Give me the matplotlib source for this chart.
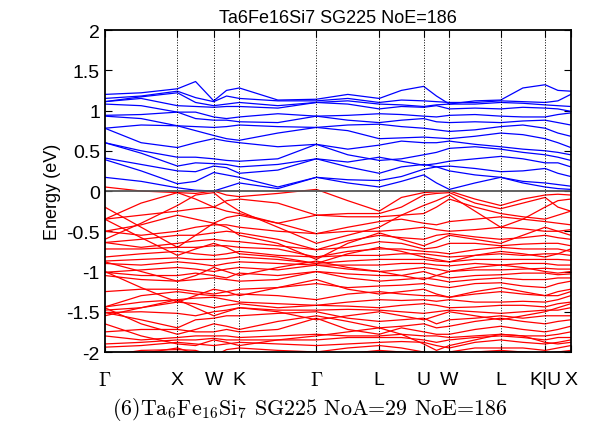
import numpy as np
import matplotlib
matplotlib.use("Agg")
import matplotlib.pyplot as plt

plt.rcParams['font.family'] = ['Liberation Sans', 'DejaVu Sans']
plt.rcParams['mathtext.fontset'] = 'cm'

# k-path (fcc): segment lengths in units of 2pi/a
labels = [r'$\Gamma$', 'X', 'W', 'K', r'$\Gamma$', 'L', 'U', 'W', 'L', 'K|U', 'X']
seg_len = [1.0, 0.5, 0.3536, 1.0607, 0.8660, 0.6124, 0.3536, 0.7071, 0.6124, 0.3536]

# band energies (eV) read at high-symmetry points and segment midpoints (21 nodes)
cond_bands = [
    [0.17, 0.12, 0.04, 0.01, 0.00, 0.05, 0.10, 0.03, 0.17, 0.10, 0.05, 0.12, 0.20, 0.10, 0.02, 0.10, 0.17, 0.10, 0.05, 0.03, 0.02],
    [0.39, 0.25, 0.09, 0.12, 0.23, 0.20, 0.17, 0.05, 0.17, 0.14, 0.13, 0.18, 0.27, 0.30, 0.25, 0.20, 0.17, 0.12, 0.10, 0.08, 0.06],
    [0.41, 0.33, 0.25, 0.24, 0.31, 0.29, 0.22, 0.26, 0.40, 0.30, 0.22, 0.30, 0.33, 0.30, 0.31, 0.28, 0.24, 0.25, 0.28, 0.22, 0.18],
    [0.60, 0.47, 0.31, 0.35, 0.34, 0.33, 0.30, 0.33, 0.40, 0.36, 0.42, 0.37, 0.32, 0.34, 0.37, 0.40, 0.43, 0.40, 0.35, 0.35, 0.30],
    [0.60, 0.50, 0.42, 0.42, 0.40, 0.38, 0.37, 0.40, 0.58, 0.45, 0.38, 0.40, 0.45, 0.48, 0.53, 0.55, 0.52, 0.48, 0.45, 0.42, 0.38],
    [0.78, 0.60, 0.54, 0.60, 0.65, 0.62, 0.60, 0.55, 0.58, 0.52, 0.57, 0.62, 0.60, 0.60, 0.62, 0.58, 0.55, 0.52, 0.50, 0.48, 0.45],
    [0.78, 0.82, 0.81, 0.75, 0.69, 0.65, 0.63, 0.72, 0.79, 0.75, 0.65, 0.66, 0.67, 0.66, 0.65, 0.68, 0.72, 0.70, 0.65, 0.60, 0.54],
    [0.93, 0.90, 0.81, 0.80, 0.79, 0.80, 0.82, 0.80, 0.79, 0.82, 0.83, 0.80, 0.78, 0.76, 0.74, 0.76, 0.80, 0.82, 0.78, 0.72, 0.68],
    [0.94, 0.95, 0.98, 0.90, 0.88, 0.88, 0.86, 0.85, 0.93, 0.88, 0.85, 0.88, 0.90, 0.86, 0.85, 0.86, 0.85, 0.87, 0.88, 0.85, 0.82],
    [1.08, 1.06, 0.98, 0.98, 0.92, 0.90, 0.92, 0.96, 0.93, 0.94, 0.96, 0.95, 0.93, 0.92, 0.94, 0.95, 0.93, 0.92, 0.92, 0.95, 0.97],
    [1.11, 1.15, 1.06, 1.05, 1.04, 1.05, 1.05, 1.03, 1.10, 1.08, 1.02, 1.05, 1.04, 1.06, 1.02, 1.03, 1.02, 1.04, 1.03, 1.02, 0.99],
    [1.11, 1.17, 1.22, 1.10, 1.06, 1.08, 1.10, 1.06, 1.10, 1.12, 1.08, 1.07, 1.05, 1.07, 1.08, 1.08, 1.10, 1.09, 1.07, 1.06, 1.05],
    [1.15, 1.18, 1.24, 1.16, 1.11, 1.18, 1.15, 1.12, 1.12, 1.15, 1.10, 1.13, 1.12, 1.11, 1.10, 1.10, 1.12, 1.11, 1.10, 1.12, 1.20],
    [1.20, 1.22, 1.27, 1.36, 1.12, 1.25, 1.28, 1.13, 1.14, 1.20, 1.15, 1.25, 1.30, 1.18, 1.08, 1.12, 1.13, 1.28, 1.32, 1.25, 1.24],
]

val_bands = [
    [0.05, 0.00, -0.02, -0.03, 0.00, -0.05, -0.07, -0.03, 0.02, -0.12, -0.25, -0.08, -0.02, -0.01, 0.00, -0.10, -0.18, -0.10, -0.05, -0.04, -0.05],
    [-0.35, -0.15, -0.02, -0.10, -0.20, -0.12, -0.10, -0.15, -0.30, -0.28, -0.28, -0.20, -0.05, -0.03, -0.02, -0.15, -0.22, -0.15, -0.08, -0.20, -0.25],
    [-0.60, -0.40, -0.18, -0.05, -0.02, -0.15, -0.25, -0.45, -0.65, -0.55, -0.45, -0.30, -0.18, -0.12, -0.05, -0.25, -0.45, -0.35, -0.20, -0.12, -0.10],
    [-0.35, -0.30, -0.25, -0.22, -0.20, -0.25, -0.28, -0.40, -0.30, -0.32, -0.32, -0.30, -0.28, -0.20, -0.10, -0.20, -0.28, -0.32, -0.35, -0.30, -0.25],
    [-0.20, -0.45, -0.70, -0.55, -0.40, -0.45, -0.55, -0.65, -0.85, -0.65, -0.52, -0.60, -0.68, -0.62, -0.55, -0.60, -0.65, -0.55, -0.45, -0.50, -0.55],
    [-0.35, -0.58, -0.80, -0.72, -0.65, -0.70, -0.78, -0.82, -0.90, -0.78, -0.70, -0.75, -0.82, -0.85, -0.88, -0.80, -0.75, -0.78, -0.82, -0.78, -0.72],
    [-0.50, -0.42, -0.30, -0.35, -0.40, -0.33, -0.30, -0.40, -0.53, -0.45, -0.38, -0.35, -0.40, -0.42, -0.38, -0.35, -0.32, -0.35, -0.38, -0.40, -0.42],
    [-0.50, -0.55, -0.50, -0.45, -0.42, -0.42, -0.45, -0.50, -0.53, -0.50, -0.50, -0.48, -0.45, -0.48, -0.50, -0.48, -0.45, -0.47, -0.50, -0.50, -0.48],
    [-0.64, -0.60, -0.55, -0.55, -0.52, -0.50, -0.52, -0.60, -0.73, -0.62, -0.55, -0.58, -0.60, -0.55, -0.53, -0.57, -0.60, -0.58, -0.55, -0.58, -0.60],
    [-0.64, -0.70, -0.65, -0.62, -0.60, -0.62, -0.63, -0.68, -0.73, -0.70, -0.63, -0.65, -0.72, -0.70, -0.65, -0.65, -0.68, -0.66, -0.65, -0.65, -0.68],
    [-0.72, -0.72, -0.70, -0.70, -0.68, -0.68, -0.70, -0.72, -0.82, -0.75, -0.72, -0.72, -0.75, -0.76, -0.78, -0.73, -0.70, -0.72, -0.72, -0.72, -0.75],
    [-0.82, -0.78, -0.75, -0.78, -0.80, -0.78, -0.75, -0.80, -0.82, -0.80, -0.80, -0.78, -0.78, -0.80, -0.82, -0.80, -0.78, -0.80, -0.78, -0.78, -0.80],
    [-0.87, -0.85, -0.83, -0.85, -0.85, -0.84, -0.82, -0.85, -0.90, -0.87, -0.85, -0.85, -0.85, -0.87, -0.88, -0.85, -0.85, -0.85, -0.85, -0.85, -0.86],
    [-0.90, -0.92, -0.88, -0.90, -0.93, -0.90, -0.88, -0.90, -0.92, -0.92, -0.92, -0.90, -0.90, -0.92, -0.93, -0.90, -0.92, -0.90, -0.90, -0.92, -0.92],
    [-0.88, -1.00, -1.12, -1.05, -0.95, -1.00, -1.05, -0.95, -0.87, -0.95, -1.00, -1.05, -1.10, -1.05, -1.00, -0.95, -0.92, -0.95, -1.00, -1.02, -1.00],
    [-1.01, -0.98, -0.95, -0.97, -1.00, -0.97, -0.95, -0.98, -0.92, -0.97, -1.00, -0.98, -0.95, -0.97, -1.00, -0.98, -0.98, -0.97, -0.96, -0.97, -0.97],
    [-1.01, -1.05, -1.05, -1.02, -1.05, -1.08, -1.02, -1.05, -1.00, -1.03, -1.05, -1.05, -1.00, -1.05, -1.08, -1.05, -1.04, -1.02, -1.02, -1.04, -1.03],
    [-1.05, -1.10, -1.12, -1.10, -1.08, -1.10, -1.12, -1.10, -1.00, -1.08, -1.12, -1.10, -1.08, -1.10, -1.13, -1.10, -1.08, -1.10, -1.10, -1.08, -1.08],
    [-1.00, -1.20, -1.38, -1.30, -1.22, -1.25, -1.30, -1.20, -1.10, -1.22, -1.28, -1.25, -1.22, -1.28, -1.32, -1.25, -1.20, -1.25, -1.30, -1.30, -1.25],
    [-1.25, -1.22, -1.22, -1.25, -1.28, -1.25, -1.22, -1.20, -1.15, -1.20, -1.18, -1.17, -1.15, -1.18, -1.20, -1.15, -1.14, -1.18, -1.20, -1.15, -1.12],
    [-1.44, -1.30, -1.25, -1.28, -1.30, -1.30, -1.28, -1.30, -1.35, -1.28, -1.25, -1.28, -1.30, -1.30, -1.32, -1.28, -1.25, -1.28, -1.30, -1.25, -1.22],
    [-1.44, -1.38, -1.35, -1.33, -1.32, -1.35, -1.38, -1.40, -1.42, -1.38, -1.35, -1.36, -1.35, -1.37, -1.35, -1.38, -1.38, -1.37, -1.38, -1.35, -1.30],
    [-1.48, -1.45, -1.38, -1.40, -1.45, -1.42, -1.40, -1.45, -1.42, -1.43, -1.45, -1.42, -1.40, -1.42, -1.45, -1.44, -1.42, -1.42, -1.44, -1.40, -1.38],
    [-1.51, -1.50, -1.52, -1.55, -1.50, -1.48, -1.45, -1.48, -1.48, -1.47, -1.48, -1.50, -1.52, -1.50, -1.48, -1.50, -1.52, -1.50, -1.48, -1.48, -1.45],
    [-1.55, -1.45, -1.35, -1.45, -1.55, -1.50, -1.45, -1.50, -1.60, -1.55, -1.50, -1.55, -1.60, -1.55, -1.50, -1.55, -1.60, -1.55, -1.50, -1.45, -1.40],
    [-1.51, -1.60, -1.70, -1.60, -1.58, -1.55, -1.55, -1.52, -1.50, -1.58, -1.62, -1.60, -1.58, -1.65, -1.60, -1.58, -1.55, -1.58, -1.55, -1.55, -1.55],
    [-1.45, -1.65, -1.78, -1.72, -1.65, -1.68, -1.72, -1.62, -1.55, -1.62, -1.70, -1.68, -1.65, -1.70, -1.68, -1.62, -1.58, -1.62, -1.65, -1.62, -1.60],
    [-1.75, -1.72, -1.72, -1.75, -1.75, -1.72, -1.75, -1.72, -1.58, -1.72, -1.78, -1.70, -1.75, -1.78, -1.78, -1.72, -1.68, -1.72, -1.75, -1.72, -1.68],
    [-1.65, -1.80, -1.90, -1.92, -1.85, -1.88, -1.92, -1.85, -1.80, -1.75, -1.70, -1.78, -1.90, -1.98, -1.92, -1.85, -1.78, -1.80, -1.88, -1.90, -1.88],
    [-1.80, -1.85, -1.82, -1.80, -1.80, -1.80, -1.82, -1.80, -1.78, -1.80, -1.80, -1.78, -1.80, -1.80, -1.82, -1.80, -1.78, -1.80, -1.80, -1.78, -1.75],
    [-1.90, -1.88, -1.85, -1.85, -1.83, -1.85, -1.85, -1.85, -1.85, -1.82, -1.82, -1.82, -1.85, -1.88, -1.85, -1.82, -1.80, -1.82, -1.85, -1.82, -1.82],
    [-1.94, -1.92, -1.88, -1.90, -1.92, -1.90, -1.88, -1.90, -1.92, -1.90, -1.88, -1.87, -1.88, -1.92, -1.95, -1.88, -1.85, -1.88, -1.90, -1.88, -1.85],
    [-2.05, -1.98, -1.97, -1.98, -2.05, -1.97, -1.95, -1.98, -2.00, -1.95, -1.92, -1.95, -2.00, -2.05, -2.00, -1.95, -1.95, -1.95, -1.98, -1.95, -1.92],
    [-2.08, -2.02, -1.95, -2.02, -2.08, -2.05, -2.02, -2.05, -2.08, -2.02, -1.98, -2.00, -2.05, -2.08, -2.05, -2.00, -1.98, -2.00, -2.02, -2.00, -1.98],
]

# k positions of high-symmetry points and of the 21 nodes
kticks = np.concatenate([[0.0], np.cumsum(seg_len)])
knodes = []
for i in range(len(seg_len)):
    knodes += [kticks[i], (kticks[i] + kticks[i + 1]) / 2]
knodes.append(kticks[-1])
knodes = np.array(knodes)

fig = plt.figure(figsize=(5.89, 4.35), dpi=100)
ax = fig.add_axes([0.178, 0.1885, 0.791, 0.7402])

for b in val_bands:
    ax.plot(knodes, b, color='red', lw=0.9)
for b in cond_bands:
    ax.plot(knodes, b, color='blue', lw=0.9)

for k in kticks[1:-1]:
    ax.axvline(k, color='black', ls=':', lw=0.7)
ax.axhline(0, color='#555555', lw=1.3)

ax.set_xlim(kticks[0], kticks[-1])
ax.set_ylim(-2, 2)
ax.set_xticks(kticks)
ax.set_xticklabels(labels, fontsize=14)
ax.set_yticks([-2, -1.5, -1, -0.5, 0, 0.5, 1, 1.5, 2])
ax.set_yticklabels(['-2', '-1.5', '-1', '-0.5', '0', '0.5', '1', '1.5', '2'], fontsize=14)
ax.tick_params(direction='in', right=True, top=True, length=5, width=0.8)
ax.tick_params(axis='x', pad=14)
for s in ax.spines.values():
    s.set_linewidth(1.3)

ax.set_ylabel('Energy (eV)', fontsize=13)
ax.set_title('Ta6Fe16Si7 SG225 NoE=186', fontsize=13, pad=6)
fig.text(0.526, 0.045, r'(6)Ta$_6$Fe$_{16}$Si$_7$ SG225 NoA=29 NoE=186',
         ha='center', fontsize=15.8, family='cmr10')

fig.savefig('out.png', dpi=100)
